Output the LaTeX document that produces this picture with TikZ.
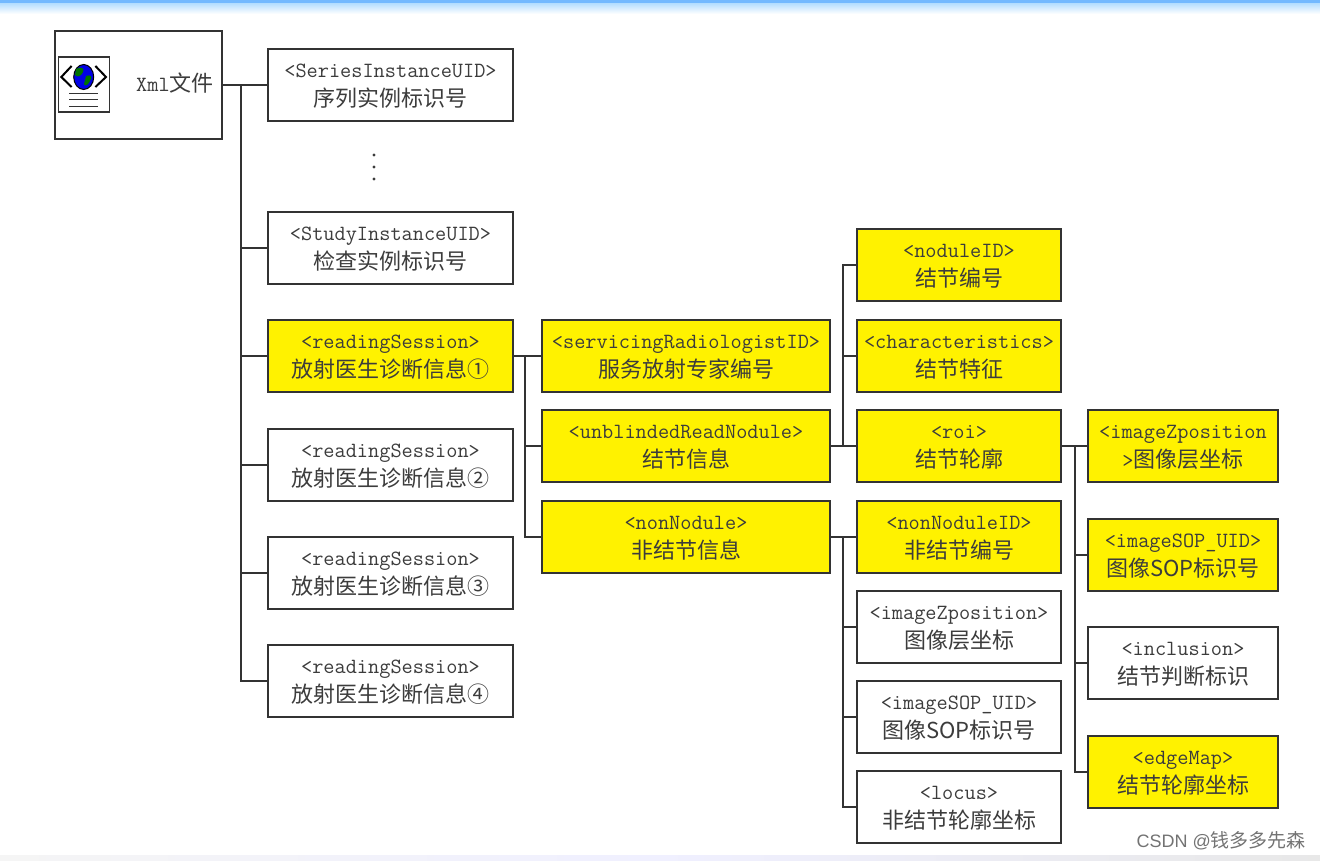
\documentclass[tikz,border=0pt]{standalone}
\usepackage{fontspec}
\newfontfamily\cjk{Noto Sans CJK SC}
\usetikzlibrary{positioning}
\definecolor{boxline}{HTML}{333333}
\definecolor{boxtext}{HTML}{3C3C3C}
\definecolor{boxyellow}{HTML}{FFF200}
\newcommand{\tagline}[1]{{\ttfamily\fontsize{21.7}{29}\selectfont\rule{0pt}{15pt}#1}}
\newcommand{\zhline}[1]{{\cjk\fontsize{22}{29}\selectfont #1}}
\tikzset{
  box/.style={draw=boxline, line width=1.8pt, text=boxtext, align=center, inner sep=0pt, outer sep=0pt, font=\fontsize{21}{29}\selectfont},
  hot/.style={fill=boxyellow, path picture={\draw[white,line width=2.4pt] (path picture bounding box.south west) rectangle (path picture bounding box.north east);}},
  colA/.style={box, minimum width=245pt, minimum height=72pt},
  colB/.style={box, minimum width=288pt, minimum height=72pt},
  colC/.style={box, minimum width=204pt, minimum height=72pt},
  colD/.style={box, minimum width=190pt, minimum height=72pt},
  wire/.style={draw=boxline, line width=1.8pt},
}
\begin{document}
\begin{tikzpicture}[x=1pt,y=-1pt]
	\useasboundingbox (0,0) rectangle (1320,861);
	% page edges
	\fill[white] (0,0) rectangle (1320,861);
	\shade[top color=blue!45!cyan!30, bottom color=white] (0,3) rectangle (1320,14);
	\fill[blue!50!cyan!55!white] (0,0) rectangle (1320,3.5);
	\shade[left color=black!4, right color=black!9, middle color=blue!6] (0,855) rectangle (1320,861);

	% root box and its icon
	\node[box, minimum width=167pt, minimum height=108pt] (xml) at (138.5,85) {};
	\node[text=boxtext, anchor=west, inner sep=0pt] (xmlname) at (136,83) {\tagline{Xml}\zhline{文件}};
	\draw[boxline, line width=1.2pt, fill=white] (58.5,57) rectangle (109.5,112);
	\draw[black, line width=2pt] (71.6,66) -- (61.3,77) -- (71.6,87);
	\draw[black, line width=2pt] (95.4,66) -- (106,77) -- (95.4,87);
	\draw[black, line width=1pt, fill=blue!90!black] (83.7,77) ellipse (10 and 12.5);
	\fill[green!45!black] (76,69) .. controls (81,66) and (85,68) .. (83,72) .. controls (81,76) and (78,78) .. (75,75) -- cycle;
	\fill[green!45!black] (86,76) .. controls (91,74) and (93,77) .. (90,81) .. controls (88,85) and (85,87) .. (84,84) -- cycle;
	\foreach \y in {94,100,107}
		\draw[boxline, line width=1pt] (69,\y) -- (98,\y);

	% second column
	\node[colA] (series) at (390.5,85) {\tagline{<SeriesInstanceUID>}\\\zhline{序列实例标识号}};
	\node[colA] (study) at (390.5,248) {\tagline{<StudyInstanceUID>}\\\zhline{检查实例标识号}};
	\node[colA, hot] (rsone) at (390.5,356) {\tagline{<readingSession>}\\\zhline{放射医生诊断信息①}};
	\node[colA] (rstwo) at (390.5,465) {\tagline{<readingSession>}\\\zhline{放射医生诊断信息②}};
	\node[colA] (rsthree) at (390.5,573) {\tagline{<readingSession>}\\\zhline{放射医生诊断信息③}};
	\node[colA] (rsfour) at (390.5,681) {\tagline{<readingSession>}\\\zhline{放射医生诊断信息④}};
	\foreach \y in {155,167,179}
		\fill[boxtext] (374,\y) circle (1.6);

	% third column
	\node[colB, hot] (servicing) at (686,356) {\tagline{<servicingRadiologistID>}\\\zhline{服务放射专家编号}};
	\node[colB, hot] (unblinded) at (686,446) {\tagline{<unblindedReadNodule>}\\\zhline{结节信息}};
	\node[colB, hot] (nonnodule) at (686,537) {\tagline{<nonNodule>}\\\zhline{非结节信息}};

	% fourth column
	\node[colC, hot] (noduleid) at (959,265) {\tagline{<noduleID>}\\\zhline{结节编号}};
	\node[colC, hot] (charact) at (959,356) {\tagline{<characteristics>}\\\zhline{结节特征}};
	\node[colC, hot] (roi) at (959,446) {\tagline{<roi>}\\\zhline{结节轮廓}};
	\node[colC, hot] (nonid) at (959,537) {\tagline{<nonNoduleID>}\\\zhline{非结节编号}};
	\node[colC] (zpos) at (959,627) {\tagline{<imageZposition>}\\\zhline{图像层坐标}};
	\node[colC] (sop) at (959,717) {\tagline{<imageSOP\_UID>}\\\zhline{图像SOP标识号}};
	\node[colC] (locus) at (959,807) {\tagline{<locus>}\\\zhline{非结节轮廓坐标}};

	% fifth column
	\node[colD, hot] (roiz) at (1183,446) {\tagline{<imageZposition}\\\tagline{>}\zhline{图像层坐标}};
	\node[colD, hot] (roisop) at (1183,555) {\tagline{<imageSOP\_UID>}\\\zhline{图像SOP标识号}};
	\node[colD] (inclusion) at (1183,663) {\tagline{<inclusion>}\\\zhline{结节判断标识}};
	\node[colD, hot] (edge) at (1183,772) {\tagline{<edgeMap>}\\\zhline{结节轮廓坐标}};

	% trunks
	\coordinate (busA) at (241,85);
	\coordinate (busB) at (525,356);
	\coordinate (busC) at (843,446);
	\coordinate (busD) at (843,537);
	\coordinate (busE) at (1075,446);

	\draw[wire] (xml.east) -- (series.west);
	\draw[wire] (busA) |- (rsfour.west);
	\foreach \n in {study,rsone,rstwo,rsthree}
		\draw[wire] (busA |- \n.west) -- (\n.west);

	\draw[wire] (rsone.east) -- (servicing.west);
	\draw[wire] (busB) |- (nonnodule.west);
	\draw[wire] (busB |- unblinded.west) -- (unblinded.west);

	\draw[wire] (unblinded.east) -- (roi.west);
	\draw[wire] (busC) |- (noduleid.west);
	\draw[wire] (busC |- charact.west) -- (charact.west);

	\draw[wire] (nonnodule.east) -- (nonid.west);
	\draw[wire] (busD) |- (locus.west);
	\foreach \n in {zpos,sop}
		\draw[wire] (busD |- \n.west) -- (\n.west);

	\draw[wire] (roi.east) -- (roiz.west);
	\draw[wire] (busE) |- (edge.west);
	\foreach \n in {roisop,inclusion}
		\draw[wire] (busE |- \n.west) -- (\n.west);

	% site mark
	\node[text=black!55, anchor=east, inner sep=0pt] (mark) at (1306,841) {{\fontspec{Liberation Sans}\fontsize{18}{20}\selectfont CSDN @}{\cjk\fontsize{19}{20}\selectfont 钱多多先森}};
\end{tikzpicture}
\end{document}
